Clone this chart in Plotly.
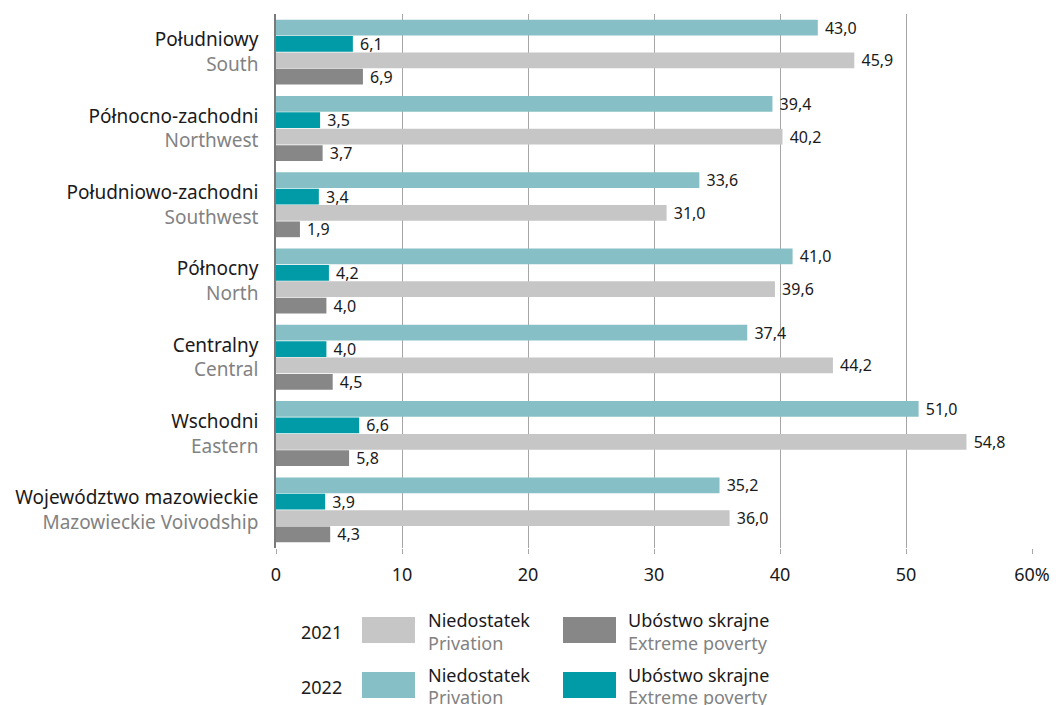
import plotly.graph_objects as go

# -----------------------------------------------------------------------------
# DATA
regions_pl = [
    "Południowy",
    "Północno-zachodni",
    "Południowo-zachodni",
    "Północny",
    "Centralny",
    "Wschodni",
    "Województwo mazowieckie",
]
regions_en = [
    "South",
    "Northwest",
    "Southwest",
    "North",
    "Central",
    "Eastern",
    "Mazowieckie Voivodship",
]
privation_2022 = [43.0, 39.4, 33.6, 41.0, 37.4, 51.0, 35.2]
extreme_2022 = [6.1, 3.5, 3.4, 4.2, 4.0, 6.6, 3.9]
privation_2021 = [45.9, 40.2, 31.0, 39.6, 44.2, 54.8, 36.0]
extreme_2021 = [6.9, 3.7, 1.9, 4.0, 4.5, 5.8, 4.3]

x_ticks = [0, 10, 20, 30, 40, 50, 60]
x_tick_labels = ["0", "10", "20", "30", "40", "50", "60%"]

# -----------------------------------------------------------------------------
# STYLE
FONT = "Noto Sans"
C_PRIV_22 = "#86c0c6"
C_EXTR_22 = "#009ba6"
C_PRIV_21 = "#c6c6c6"
C_EXTR_21 = "#878787"
C_EN = "#828282"
C_TXT = "#1a1a1a"

# the page body adds an 8px margin, so the figure is drawn 8px smaller
OFF = 8
W, H = 1063 - OFF, 705 - OFF
M_L, M_R, M_T, M_B = 276 - OFF, 31, 14 - OFF, 705 - 548
PW = W - M_L - M_R
PH = H - M_T - M_B


def px_x(px):
    # page pixel -> paper x
    return (px - OFF - M_L) / PW


def px_y(py):
    # page pixel -> paper y
    return (H - M_B - (py - OFF)) / PH


tick_text = [
    f"{pl}<br><span style='color:{C_EN}'>{en}</span>"
    for pl, en in zip(regions_pl, regions_en)
]

series = [
    ("2022 Niedostatek", privation_2022, C_PRIV_22),
    ("2022 Ubóstwo skrajne", extreme_2022, C_EXTR_22),
    ("2021 Niedostatek", privation_2021, C_PRIV_21),
    ("2021 Ubóstwo skrajne", extreme_2021, C_EXTR_21),
]

fig = go.Figure()
for name, values, color in series:
    fig.add_trace(
        go.Bar(
            name=name,
            y=regions_pl,
            x=values,
            orientation="h",
            marker={"color": color, "line": {"width": 0}},
            texttemplate="\u00a0%{x:.1f}",
            textposition="outside",
            constraintext="none",
            textfont={"family": FONT, "size": 16, "color": C_TXT},
            cliponaxis=False,
            showlegend=False,
        )
    )

# -----------------------------------------------------------------------------
# LEGEND (drawn by hand)
shapes = []
annotations = []
rows = [
    ("2021", 632, 617, 643, 620, 643, C_PRIV_21, C_EXTR_21),
    ("2022", 687, 672, 698, 675, 697, C_PRIV_22, C_EXTR_22),
]
for year, y_year, s_top, s_bot, y_pl, y_en, c_priv, c_extr in rows:
    annotations.append(
        dict(
            text=year, x=px_x(299), y=px_y(y_year), xref="paper", yref="paper",
            xanchor="left", yanchor="middle", showarrow=False,
            font={"family": FONT, "size": 18, "color": C_TXT},
        )
    )
    for x0, x1, color, x_txt, pl, en in [
        (362, 415, c_priv, 426, "Niedostatek", "Privation"),
        (563, 616, c_extr, 626, "Ubóstwo skrajne", "Extreme poverty"),
    ]:
        shapes.append(
            dict(
                type="rect", xref="paper", yref="paper",
                x0=px_x(x0), x1=px_x(x1), y0=px_y(s_bot), y1=px_y(s_top),
                fillcolor=color, line={"width": 0},
            )
        )
        annotations.append(
            dict(
                text=pl, x=px_x(x_txt), y=px_y(y_pl), xref="paper", yref="paper",
                xanchor="left", yanchor="middle", showarrow=False,
                font={"family": FONT, "size": 18, "color": C_TXT},
            )
        )
        annotations.append(
            dict(
                text=en, x=px_x(x_txt), y=px_y(y_en), xref="paper", yref="paper",
                xanchor="left", yanchor="middle", showarrow=False,
                font={"family": FONT, "size": 18, "color": C_EN},
            )
        )

fig.update_layout(
    width=W,
    height=H,
    margin={"l": M_L, "r": M_R, "t": M_T, "b": M_B, "pad": 0},
    paper_bgcolor="white",
    plot_bgcolor="white",
    barmode="group",
    bargap=0.14,
    bargroupgap=0.04,
    separators=", ",
    font={"family": FONT, "size": 18, "color": C_TXT},
    shapes=shapes,
    annotations=annotations,
)
fig.update_xaxes(
    range=[0, 60],
    tickvals=x_ticks,
    ticktext=x_tick_labels,
    showgrid=True,
    gridcolor="#a6a6a6",
    gridwidth=1,
    zeroline=False,
    showline=False,
    ticks="outside",
    ticklen=5,
    tickcolor="#a6a6a6",
    ticklabelstandoff=5,
    tickfont={"family": FONT, "size": 18, "color": C_TXT},
    layer="above traces",
    fixedrange=True,
)
fig.update_yaxes(
    categoryorder="array",
    categoryarray=regions_pl,
    tickvals=regions_pl,
    ticktext=tick_text,
    autorange="reversed",
    showline=True,
    linecolor="#7a7a7a",
    linewidth=1.5,
    showgrid=False,
    ticks="",
    ticklabelstandoff=12,
    tickfont={"family": FONT, "size": 19, "color": C_TXT},
    fixedrange=True,
)

fig.write_html("out.html")
